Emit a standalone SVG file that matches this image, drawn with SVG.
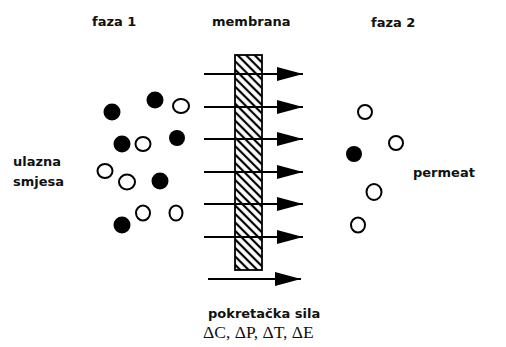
<svg xmlns="http://www.w3.org/2000/svg" width="506" height="347" viewBox="0 0 506 347">
<style>
.lbl{font-family:"DejaVu Sans",Verdana,sans-serif;font-weight:bold;font-size:13px;fill:#111}
.drv{font-family:"Liberation Serif","Times New Roman",serif;font-size:17.5px;fill:#111}
.f{fill:#000}
.o{fill:#fff;stroke:#000;stroke-width:2}
.ln{stroke:#000;stroke-width:2.2;fill:none}
</style>
<defs>
<pattern id="hatch" patternUnits="userSpaceOnUse" width="6" height="6" patternTransform="rotate(45)">
<rect width="6" height="6" fill="#fff"/>
<line x1="0" y1="3" x2="6" y2="3" stroke="#000" stroke-width="2.2"/>
</pattern>
<marker id="ah" markerUnits="userSpaceOnUse" markerWidth="27" markerHeight="14" refX="26" refY="7" orient="auto">
<polygon points="0,0 26,7 0,14" fill="#000"/>
</marker>
</defs>
<rect width="506" height="347" fill="#fff"/>
<g id="membrana">
<rect x="235" y="55" width="27" height="215" fill="url(#hatch)" stroke="#000" stroke-width="1.8"/>
</g>
<g id="connectors">
<line class="ln" x1="204" y1="74" x2="303" y2="74" marker-end="url(#ah)"/>
<line class="ln" x1="204" y1="107" x2="303" y2="107" marker-end="url(#ah)"/>
<line class="ln" x1="204" y1="139" x2="303" y2="139" marker-end="url(#ah)"/>
<line class="ln" x1="204" y1="172" x2="303" y2="172" marker-end="url(#ah)"/>
<line class="ln" x1="204" y1="204" x2="303" y2="204" marker-end="url(#ah)"/>
<line class="ln" x1="204" y1="237" x2="303" y2="237" marker-end="url(#ah)"/>
<line class="ln" x1="208" y1="279" x2="301" y2="279" marker-end="url(#ah)"/>
</g>
<g id="faza1-particles">
<circle class="f" cx="112" cy="112" r="8.5"/>
<circle class="f" cx="155" cy="100" r="8.5"/>
<ellipse class="o" cx="181" cy="106" rx="8" ry="7"/>
<circle class="f" cx="122" cy="144" r="8.5"/>
<ellipse class="o" cx="143" cy="144" rx="7.5" ry="7"/>
<circle class="f" cx="177" cy="138" r="8"/>
<ellipse class="o" cx="105" cy="171" rx="7.5" ry="7"/>
<ellipse class="o" cx="127" cy="182" rx="8" ry="7.5"/>
<circle class="f" cx="160" cy="181" r="8.5"/>
<ellipse class="o" cx="143" cy="213" rx="7" ry="7.5"/>
<ellipse class="o" cx="176" cy="213" rx="6.5" ry="7.5"/>
<circle class="f" cx="122" cy="225" r="8.5"/>
</g>
<g id="faza2-particles">
<ellipse class="o" cx="365" cy="112" rx="7" ry="7"/>
<ellipse class="o" cx="396" cy="143" rx="7" ry="7"/>
<circle class="f" cx="354" cy="154" r="8"/>
<ellipse class="o" cx="374" cy="192" rx="7.5" ry="8"/>
<ellipse class="o" cx="358" cy="225" rx="7" ry="7.5"/>
</g>
<g id="labels">
<text class="lbl" x="92" y="26">faza 1</text>
<text class="lbl" x="212" y="26">membrana</text>
<text class="lbl" x="371" y="27">faza 2</text>
<text class="lbl" x="13" y="166">ulazna</text>
<text class="lbl" x="13" y="186">smjesa</text>
<text class="lbl" x="413" y="177">permeat</text>
<text class="lbl" x="208" y="318" font-size="13.5">pokretačka sila</text>
<text class="drv" x="203" y="338">ΔC, ΔP, ΔT, ΔE</text>
</g>
</svg>
